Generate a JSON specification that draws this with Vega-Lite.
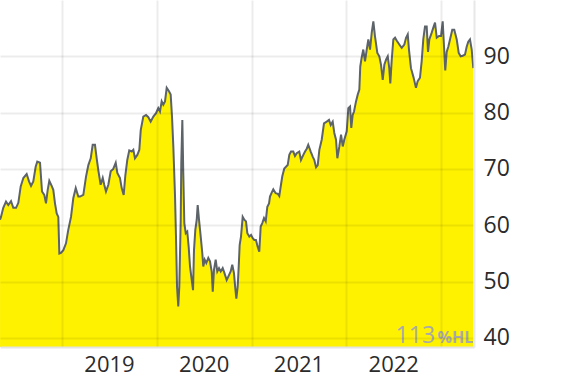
{
  "$schema": "https://vega.github.io/schema/vega-lite/v6.json",
  "width": 474,
  "height": 347,
  "padding": {"left": 0, "top": 0, "right": 96, "bottom": 35},
  "autosize": {"type": "none"},
  "background": "#ffffff",
  "config": {
    "view": {"stroke": null},
    "font": "Open Sans"
  },
  "datasets": {
    "price": [
      {"t": 2018.346, "v": 61.0},
      {"t": 2018.356, "v": 61.5},
      {"t": 2018.380, "v": 63.1},
      {"t": 2018.409, "v": 64.2},
      {"t": 2018.433, "v": 63.6},
      {"t": 2018.462, "v": 64.3},
      {"t": 2018.486, "v": 63.1},
      {"t": 2018.515, "v": 63.1},
      {"t": 2018.539, "v": 64.0},
      {"t": 2018.564, "v": 66.9},
      {"t": 2018.592, "v": 68.4},
      {"t": 2018.627, "v": 69.1},
      {"t": 2018.652, "v": 67.8},
      {"t": 2018.673, "v": 67.0},
      {"t": 2018.697, "v": 67.8},
      {"t": 2018.722, "v": 70.4},
      {"t": 2018.739, "v": 71.3},
      {"t": 2018.768, "v": 71.1},
      {"t": 2018.789, "v": 66.0},
      {"t": 2018.813, "v": 65.4},
      {"t": 2018.831, "v": 63.9},
      {"t": 2018.849, "v": 66.3},
      {"t": 2018.866, "v": 67.9},
      {"t": 2018.891, "v": 67.0},
      {"t": 2018.908, "v": 66.3},
      {"t": 2018.926, "v": 63.9},
      {"t": 2018.944, "v": 62.1},
      {"t": 2018.961, "v": 61.5},
      {"t": 2018.972, "v": 55.0},
      {"t": 2018.989, "v": 55.1},
      {"t": 2019.014, "v": 55.6},
      {"t": 2019.042, "v": 56.8},
      {"t": 2019.066, "v": 59.2},
      {"t": 2019.095, "v": 61.5},
      {"t": 2019.119, "v": 64.8},
      {"t": 2019.145, "v": 66.6},
      {"t": 2019.172, "v": 65.1},
      {"t": 2019.190, "v": 65.1},
      {"t": 2019.225, "v": 65.4},
      {"t": 2019.253, "v": 68.6},
      {"t": 2019.278, "v": 70.7},
      {"t": 2019.303, "v": 71.9},
      {"t": 2019.324, "v": 74.3},
      {"t": 2019.348, "v": 74.3},
      {"t": 2019.366, "v": 71.9},
      {"t": 2019.383, "v": 69.8},
      {"t": 2019.408, "v": 67.2},
      {"t": 2019.430, "v": 68.4},
      {"t": 2019.446, "v": 67.2},
      {"t": 2019.464, "v": 66.0},
      {"t": 2019.489, "v": 67.2},
      {"t": 2019.514, "v": 69.6},
      {"t": 2019.541, "v": 70.0},
      {"t": 2019.567, "v": 71.1},
      {"t": 2019.584, "v": 69.3},
      {"t": 2019.612, "v": 68.4},
      {"t": 2019.630, "v": 66.6},
      {"t": 2019.651, "v": 65.4},
      {"t": 2019.668, "v": 68.8},
      {"t": 2019.689, "v": 71.6},
      {"t": 2019.710, "v": 73.3},
      {"t": 2019.736, "v": 73.1},
      {"t": 2019.753, "v": 73.4},
      {"t": 2019.770, "v": 71.9},
      {"t": 2019.795, "v": 72.5},
      {"t": 2019.816, "v": 73.4},
      {"t": 2019.831, "v": 76.9},
      {"t": 2019.858, "v": 79.3},
      {"t": 2019.887, "v": 79.6},
      {"t": 2019.911, "v": 79.2},
      {"t": 2019.936, "v": 78.4},
      {"t": 2019.964, "v": 79.3},
      {"t": 2019.992, "v": 79.9},
      {"t": 2020.016, "v": 80.8},
      {"t": 2020.034, "v": 80.2},
      {"t": 2020.052, "v": 82.0},
      {"t": 2020.069, "v": 81.4},
      {"t": 2020.087, "v": 82.0},
      {"t": 2020.105, "v": 84.4},
      {"t": 2020.129, "v": 83.8},
      {"t": 2020.147, "v": 83.2},
      {"t": 2020.161, "v": 79.3},
      {"t": 2020.175, "v": 74.0},
      {"t": 2020.193, "v": 65.1},
      {"t": 2020.203, "v": 58.0},
      {"t": 2020.214, "v": 49.1},
      {"t": 2020.227, "v": 45.6},
      {"t": 2020.238, "v": 49.1},
      {"t": 2020.253, "v": 61.0},
      {"t": 2020.259, "v": 71.1},
      {"t": 2020.270, "v": 78.7},
      {"t": 2020.280, "v": 69.3},
      {"t": 2020.291, "v": 60.4},
      {"t": 2020.306, "v": 58.6},
      {"t": 2020.322, "v": 58.9},
      {"t": 2020.337, "v": 56.2},
      {"t": 2020.351, "v": 52.7},
      {"t": 2020.369, "v": 50.3},
      {"t": 2020.383, "v": 48.5},
      {"t": 2020.393, "v": 55.6},
      {"t": 2020.407, "v": 59.2},
      {"t": 2020.422, "v": 61.0},
      {"t": 2020.432, "v": 63.6},
      {"t": 2020.446, "v": 61.0},
      {"t": 2020.464, "v": 58.0},
      {"t": 2020.481, "v": 55.0},
      {"t": 2020.491, "v": 52.7},
      {"t": 2020.506, "v": 53.9},
      {"t": 2020.523, "v": 53.3},
      {"t": 2020.544, "v": 54.2},
      {"t": 2020.562, "v": 53.6},
      {"t": 2020.580, "v": 51.8},
      {"t": 2020.591, "v": 48.2},
      {"t": 2020.604, "v": 52.1},
      {"t": 2020.622, "v": 53.9},
      {"t": 2020.639, "v": 51.8},
      {"t": 2020.657, "v": 52.4},
      {"t": 2020.675, "v": 51.8},
      {"t": 2020.696, "v": 52.4},
      {"t": 2020.713, "v": 51.6},
      {"t": 2020.738, "v": 50.3},
      {"t": 2020.755, "v": 50.9},
      {"t": 2020.780, "v": 51.8},
      {"t": 2020.797, "v": 53.0},
      {"t": 2020.815, "v": 51.5},
      {"t": 2020.829, "v": 48.8},
      {"t": 2020.840, "v": 47.0},
      {"t": 2020.854, "v": 49.1},
      {"t": 2020.865, "v": 52.7},
      {"t": 2020.875, "v": 56.5},
      {"t": 2020.889, "v": 58.0},
      {"t": 2020.907, "v": 61.5},
      {"t": 2020.924, "v": 61.0},
      {"t": 2020.942, "v": 60.7},
      {"t": 2020.956, "v": 58.6},
      {"t": 2020.977, "v": 58.0},
      {"t": 2020.995, "v": 58.3},
      {"t": 2021.013, "v": 57.7},
      {"t": 2021.030, "v": 57.4},
      {"t": 2021.047, "v": 57.4},
      {"t": 2021.065, "v": 56.2},
      {"t": 2021.082, "v": 55.3},
      {"t": 2021.097, "v": 59.8},
      {"t": 2021.114, "v": 60.4},
      {"t": 2021.132, "v": 61.3},
      {"t": 2021.150, "v": 60.7},
      {"t": 2021.167, "v": 63.3},
      {"t": 2021.185, "v": 63.9},
      {"t": 2021.195, "v": 65.1},
      {"t": 2021.213, "v": 65.8},
      {"t": 2021.230, "v": 66.4},
      {"t": 2021.255, "v": 65.7},
      {"t": 2021.277, "v": 65.6},
      {"t": 2021.293, "v": 65.2},
      {"t": 2021.311, "v": 67.2},
      {"t": 2021.325, "v": 68.7},
      {"t": 2021.346, "v": 70.1},
      {"t": 2021.364, "v": 70.4},
      {"t": 2021.382, "v": 70.7},
      {"t": 2021.399, "v": 72.5},
      {"t": 2021.417, "v": 73.1},
      {"t": 2021.441, "v": 73.1},
      {"t": 2021.459, "v": 72.3},
      {"t": 2021.477, "v": 72.8},
      {"t": 2021.504, "v": 73.1},
      {"t": 2021.522, "v": 71.6},
      {"t": 2021.547, "v": 72.5},
      {"t": 2021.565, "v": 73.1},
      {"t": 2021.583, "v": 73.6},
      {"t": 2021.599, "v": 74.3},
      {"t": 2021.625, "v": 73.1},
      {"t": 2021.646, "v": 72.2},
      {"t": 2021.663, "v": 71.6},
      {"t": 2021.681, "v": 70.3},
      {"t": 2021.699, "v": 70.7},
      {"t": 2021.716, "v": 73.4},
      {"t": 2021.741, "v": 75.2},
      {"t": 2021.765, "v": 78.1},
      {"t": 2021.794, "v": 78.4},
      {"t": 2021.818, "v": 78.7},
      {"t": 2021.836, "v": 77.8},
      {"t": 2021.857, "v": 78.4},
      {"t": 2021.874, "v": 76.4},
      {"t": 2021.892, "v": 75.2},
      {"t": 2021.906, "v": 71.9},
      {"t": 2021.927, "v": 74.0},
      {"t": 2021.945, "v": 76.1},
      {"t": 2021.963, "v": 74.0},
      {"t": 2021.979, "v": 75.2},
      {"t": 2022.005, "v": 76.7},
      {"t": 2022.022, "v": 80.8},
      {"t": 2022.040, "v": 81.1},
      {"t": 2022.053, "v": 77.3},
      {"t": 2022.068, "v": 79.6},
      {"t": 2022.082, "v": 80.2},
      {"t": 2022.103, "v": 82.0},
      {"t": 2022.121, "v": 83.2},
      {"t": 2022.138, "v": 84.1},
      {"t": 2022.148, "v": 88.2},
      {"t": 2022.163, "v": 89.8},
      {"t": 2022.180, "v": 91.2},
      {"t": 2022.198, "v": 89.1},
      {"t": 2022.216, "v": 91.2},
      {"t": 2022.233, "v": 93.0},
      {"t": 2022.251, "v": 91.2},
      {"t": 2022.269, "v": 94.2},
      {"t": 2022.286, "v": 96.2},
      {"t": 2022.303, "v": 93.6},
      {"t": 2022.328, "v": 90.6},
      {"t": 2022.349, "v": 90.0},
      {"t": 2022.367, "v": 88.5},
      {"t": 2022.385, "v": 85.8},
      {"t": 2022.402, "v": 88.5},
      {"t": 2022.420, "v": 89.4},
      {"t": 2022.438, "v": 90.0},
      {"t": 2022.454, "v": 87.9},
      {"t": 2022.465, "v": 85.2},
      {"t": 2022.480, "v": 89.4},
      {"t": 2022.497, "v": 93.0},
      {"t": 2022.515, "v": 93.3},
      {"t": 2022.532, "v": 92.8},
      {"t": 2022.560, "v": 92.1},
      {"t": 2022.585, "v": 91.5},
      {"t": 2022.613, "v": 92.1},
      {"t": 2022.631, "v": 93.3},
      {"t": 2022.649, "v": 93.9},
      {"t": 2022.662, "v": 91.2},
      {"t": 2022.683, "v": 87.9},
      {"t": 2022.708, "v": 86.4},
      {"t": 2022.736, "v": 84.4},
      {"t": 2022.754, "v": 85.6},
      {"t": 2022.778, "v": 86.2},
      {"t": 2022.796, "v": 89.1},
      {"t": 2022.813, "v": 93.0},
      {"t": 2022.831, "v": 95.3},
      {"t": 2022.849, "v": 95.3},
      {"t": 2022.863, "v": 90.8},
      {"t": 2022.877, "v": 93.0},
      {"t": 2022.902, "v": 94.2},
      {"t": 2022.919, "v": 95.1},
      {"t": 2022.937, "v": 96.0},
      {"t": 2022.955, "v": 93.3},
      {"t": 2022.979, "v": 93.6},
      {"t": 2023.000, "v": 93.6},
      {"t": 2023.018, "v": 96.2},
      {"t": 2023.032, "v": 91.7},
      {"t": 2023.045, "v": 87.5},
      {"t": 2023.060, "v": 90.8},
      {"t": 2023.077, "v": 91.7},
      {"t": 2023.095, "v": 93.0},
      {"t": 2023.119, "v": 94.7},
      {"t": 2023.140, "v": 94.7},
      {"t": 2023.166, "v": 93.0},
      {"t": 2023.187, "v": 90.6},
      {"t": 2023.208, "v": 90.0},
      {"t": 2023.229, "v": 90.1},
      {"t": 2023.253, "v": 90.3},
      {"t": 2023.271, "v": 91.7},
      {"t": 2023.288, "v": 92.6},
      {"t": 2023.306, "v": 93.0},
      {"t": 2023.324, "v": 91.2},
      {"t": 2023.341, "v": 87.9}
    ],
    "mark": [{"label": "113", "unit": "%HL"}]
  },
  "layer": [
    {
      "data": {"name": "price"},
      "mark": {"type": "area", "color": "#fff200", "clip": true},
      "encoding": {
        "x": {
          "field": "t",
          "type": "quantitative",
          "scale": {"domain": [2018.3456, 2023.3483], "nice": false, "zero": false},
          "axis": {
            "values": [2019, 2020, 2021, 2022, 2023],
            "format": "d",
            "labelExpr": "datum.value >= 2023 ? '' : datum.label",
            "labelOffset": 47,
            "labelFlush": false,
            "labelOverlap": false,
            "labelBound": false,
            "labelFont": "Open Sans",
            "labelFontSize": 22,
            "labelColor": "#2b2b2b",
            "labelPadding": 7,
            "ticks": false,
            "domain": true,
            "domainColor": "#e4e4e4",
            "domainWidth": 2,
            "grid": true,
            "gridColor": "#000000",
            "gridOpacity": 0.075,
            "gridWidth": 2,
            "title": null,
            "zindex": 1
          }
        },
        "y": {
          "field": "v",
          "type": "quantitative",
          "scale": {"domain": [38.4, 100], "nice": false, "zero": false},
          "axis": {
            "orient": "right",
            "values": [40, 50, 60, 70, 80, 90],
            "labelFont": "Open Sans",
            "labelFontSize": 23,
            "labelColor": "#2b2b2b",
            "labelPadding": 9,
            "labelAlign": "left",
            "ticks": false,
            "domain": true,
            "domainColor": "#e8e8e8",
            "domainWidth": 2,
            "grid": true,
            "gridColor": "#000000",
            "gridOpacity": 0.075,
            "gridWidth": 2,
            "title": null,
            "zindex": 1
          }
        }
      }
    },
    {
      "data": {"name": "price"},
      "mark": {"type": "line", "color": "#5c6369", "strokeWidth": 2, "clip": true},
      "encoding": {
        "x": {"field": "t", "type": "quantitative"},
        "y": {"field": "v", "type": "quantitative"}
      }
    },
    {
      "data": {"name": "mark"},
      "mark": {"type": "text", "align": "right", "baseline": "alphabetic", "font": "Open Sans", "fontSize": 23, "color": "#a9a9a9"},
      "encoding": {
        "text": {"field": "label"},
        "x": {"datum": 2022.937},
        "y": {"datum": 39.1}
      }
    },
    {
      "data": {"name": "mark"},
      "mark": {"type": "text", "align": "left", "baseline": "alphabetic", "font": "Open Sans", "fontSize": 16, "fontWeight": "bold", "color": "#a9a9a9"},
      "encoding": {
        "text": {"field": "unit"},
        "x": {"datum": 2022.963},
        "y": {"datum": 39.1}
      }
    }
  ]
}
